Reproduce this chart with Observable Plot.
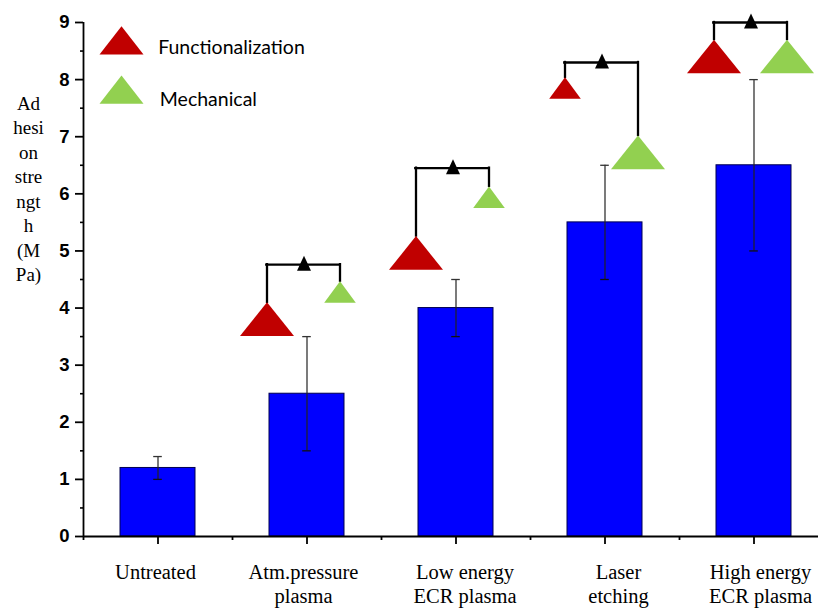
<!DOCTYPE html>
<html><head><meta charset="utf-8">
<script src="https://cdn.jsdelivr.net/npm/d3@7"></script>
<script src="https://cdn.jsdelivr.net/npm/@observablehq/plot@0.6"></script>
<style>html,body{margin:0;padding:0;background:#fff;} #chart svg{display:block;}</style>
</head><body><div id="chart"></div>
<script>
// ---- data ----
const categories = ["Untreated", "Atm.pressure\nplasma", "Low energy\nECR plasma", "Laser\netching", "High energy\nECR plasma"];
const strength = [1.2, 2.5, 4.0, 5.5, 6.5];
const errLow = [1.0, 1.5, 3.5, 4.5, 5.0];
const errHigh = [1.4, 3.5, 4.5, 6.5, 8.0];
const yTicks = [0, 1, 2, 3, 4, 5, 6, 7, 8, 9];
const yMinorTicks = [0.5, 1.5, 2.5, 3.5, 4.5, 5.5, 6.5, 7.5, 8.5];
const yLabel = "Ad\nhesi\non\nstre\nngt\nh\n(M\nPa)";
// contribution markers (treated samples)
const markerCategories = categories.slice(1);
const funcApex = [4.10, 5.26, 8.04, 8.70];
const mechApex = [4.47, 6.13, 7.02, 8.70];
const bracketLevel = [4.76, 6.45, 8.30, 9.00];
const funcWeight = [2, 2, 1, 2];
const mechWeight = [1, 1, 2, 2];
const legendLabels = ["Functionalization", "Mechanical"];

const bars = categories.map((c, i) => ({cat: c, v: strength[i], lo: errLow[i], hi: errHigh[i]}));
const markers = markerCategories.map((c, i) => ({cat: c, f: funcApex[i], m: mechApex[i], b: bracketLevel[i], fw: funcWeight[i], mw: mechWeight[i]}));

const RED = "#C00000", GREEN = "#92D050";
// triangle with apex at origin
const wideTri = {draw(ctx, size) { const r = Math.sqrt(size / Math.PI); const h = 1.09 * r + 4.3; ctx.moveTo(0, 0); ctx.lineTo(r, h); ctx.lineTo(-r, h); ctx.closePath(); }};
const tallTri = {draw(ctx, size) { const r = Math.sqrt(size / Math.PI); const h = r * 15 / 7; ctx.moveTo(0, 0); ctx.lineTo(r, h); ctx.lineTo(-r, h); ctx.closePath(); }};

const serif = "'Liberation Serif', 'Times New Roman', serif";
const sans = "'Liberation Sans', Arial, sans-serif";
const labelNudge = [-2.5, -3.5, 9, 13.5, 6.5];
const BK = 2.3;
const catFs = 20.5, catLh = 1.21;
const yFs = 19, yLh = 1.29;
const nLines = s => s.split("\n").length;

const plot = Plot.plot({
  width: 818, height: 609,
  marginLeft: 83, marginRight: 0, marginTop: 22, marginBottom: 73,
  style: {fontFamily: sans, background: "#fff", color: "#000"},
  x: {type: "band", domain: categories, range: [83, 828], paddingInner: 0.5, paddingOuter: 0.25, align: 0.5, axis: null, label: null},
  y: {domain: [0, 9], axis: null, label: null},
  r: {type: "linear", domain: [1, 2], range: [15.8, 27]},
  marks: [
    Plot.barY(bars, {x: "cat", y: "v", fill: "#0000FF", stroke: "#000050", strokeWidth: 1}),
    Plot.ruleX(bars, {x: "cat", y1: "lo", y2: "hi", stroke: "#222", strokeWidth: 1.2}),
    Plot.tickY(bars, {x: "cat", y: "lo", stroke: "#111", strokeWidth: 1.3, insetLeft: 33.2, insetRight: 33.2}),
    Plot.tickY(bars, {x: "cat", y: "hi", stroke: "#333", strokeWidth: 1.3, insetLeft: 33.2, insetRight: 33.2}),
    // axes
    Plot.axisY({ticks: yMinorTicks, tickSize: 3, tickFormat: () => "", strokeWidth: 1.6, label: null}),
    Plot.axisY({ticks: yTicks, tickSize: 8, tickPadding: 6, fontSize: 18.5, fontWeight: "bold", fontFamily: sans, strokeWidth: 1.8, tickFormat: d => String(d), label: null}),
    Plot.axisX({tickSize: 8, tickFormat: () => "", strokeWidth: 1.8, label: null}),
    Plot.axisX({tickSize: 4, dx: -74.5, tickFormat: () => "", strokeWidth: 1.8, label: null}),
    Plot.ruleX([categories[0]], {y1: 0, y2: 9, dx: -74.5, strokeWidth: 1.8}),
    Plot.ruleY([0], {strokeWidth: 1.8}),
    // category labels
    ...categories.map((c, i) => Plot.text([c], {x: d => d, text: d => d, frameAnchor: "bottom", dx: labelNudge[i], dy: 42 + (nLines(c) - 1) * catLh * catFs, lineAnchor: "bottom", fontSize: catFs, fontFamily: serif, lineHeight: catLh, textAnchor: "middle"})),
    // y label
    Plot.text([yLabel], {text: d => d, frameAnchor: "top-left", dx: -55, dy: 87.3 + (nLines(yLabel) - 1) * yLh * yFs, lineAnchor: "bottom", textAnchor: "middle", fontSize: yFs, fontFamily: serif, lineHeight: yLh}),
    // brackets
    Plot.ruleX(markers, {x: "cat", y1: "f", y2: "b", dx: -40, strokeWidth: BK, strokeLinecap: "square"}),
    Plot.ruleX(markers, {x: "cat", y1: "m", y2: "b", dx: 33, strokeWidth: BK, strokeLinecap: "square"}),
    Plot.tickY(markers, {x: "cat", y: "b", insetLeft: -2.75, insetRight: 4.25, strokeWidth: BK, strokeLinecap: "square"}),
    Plot.dot(markers, {x: "cat", y: "b", dx: -3, dy: -9, r: 7, symbol: tallTri, fill: "#000", stroke: "none"}),
    Plot.dot(markers, {x: "cat", y: "f", dx: -40, r: "fw", symbol: wideTri, fill: RED, stroke: "none"}),
    Plot.dot(markers, {x: "cat", y: "m", dx: 33, r: "mw", symbol: wideTri, fill: GREEN, stroke: "none"}),
    // legend
    Plot.dot([legendLabels[0]], {frameAnchor: "top-left", dx: 38, dy: 3.7, r: 22, symbol: wideTri, fill: RED, stroke: "none"}),
    Plot.dot([legendLabels[1]], {frameAnchor: "top-left", dx: 38, dy: 53, r: 22, symbol: wideTri, fill: GREEN, stroke: "none"}),
    Plot.text([legendLabels[0]], {text: d => d, frameAnchor: "top-left", dx: 74.7, dy: 31.3, lineAnchor: "bottom", textAnchor: "start", fontSize: 19.5, fontFamily: "Lato, sans-serif"}),
    Plot.text([legendLabels[1]], {text: d => d, frameAnchor: "top-left", dx: 76.3, dy: 83.3, lineAnchor: "bottom", textAnchor: "start", fontSize: 19.5, fontFamily: "Lato, sans-serif"})
  ]
});
document.getElementById("chart").appendChild(plot);
</script>
</body></html>
